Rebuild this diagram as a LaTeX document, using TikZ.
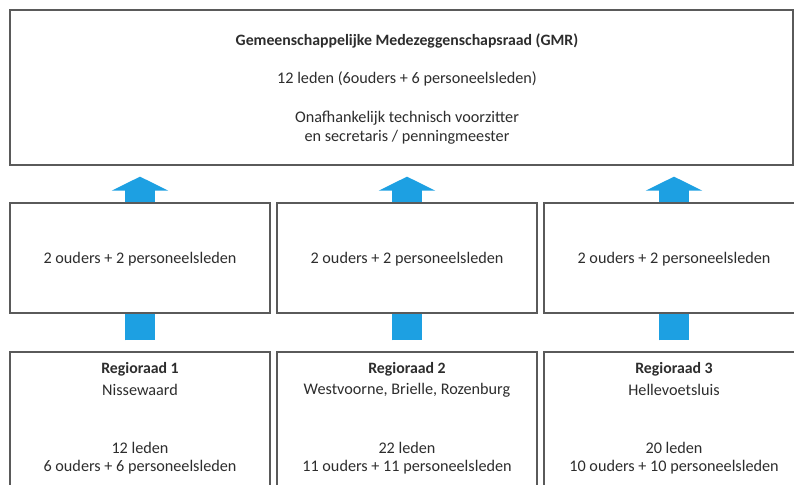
\documentclass[tikz,border=0pt]{standalone}
\usepackage{fontspec}
\setmainfont{Carlito}
\usetikzlibrary{arrows.meta}
\definecolor{boxline}{RGB}{90,90,90}
\definecolor{txt}{RGB}{45,45,45}
\definecolor{arrowc}{RGB}{29,160,226}
\tikzset{
  box/.style={draw=boxline, line width=1.3pt, fill=white, inner sep=0pt},
  lbl/.style={text=txt, font=\fontsize{16.2}{19}\selectfont, inner sep=0pt, align=center},
  boldlbl/.style={lbl, font=\fontsize{15.8}{19}\selectfont\bfseries},
  uparr/.style={draw=arrowc, line width=30pt, -{Triangle[length=14pt,width=56pt]}, shorten >=11pt},
  stem/.style={draw=arrowc, line width=30pt},
}
\begin{document}
\begin{tikzpicture}[x=1pt,y=1pt]
\useasboundingbox (0,0) rectangle (794,-484);
% top box
\node[box, minimum width=783pt, minimum height=155pt] (gmr) at (401.5,-87.5) {};
\node[boldlbl] (t1) at (407,-41) {Gemeenschappelijke Medezeggenschapsraad (GMR)};
\node[lbl] (t2) at (407,-79) {12 leden (6ouders + 6 personeelsleden)};
\node[lbl] (t3) at (407,-128) {Onafhankelijk technisch voorzitter\\en secretaris / penningmeester};
% middle boxes
\node[box, minimum width=260pt, minimum height=110pt] (m1) at (140,-258) {};
\node[box, minimum width=260pt, minimum height=110pt] (m2) at (407,-258) {};
\node[box, minimum width=260pt, minimum height=110pt] (m3) at (674,-258) {};
\node[lbl] (mt1) at ([yshift=-1pt]m1.center) {2 ouders + 2 personeelsleden};
\node[lbl] (mt2) at ([yshift=-1pt]m2.center) {2 ouders + 2 personeelsleden};
\node[lbl] (mt3) at ([yshift=-1pt]m3.center) {2 ouders + 2 personeelsleden};
% bottom boxes
\node[box, minimum width=260pt, minimum height=160pt] (b1) at (140,-432) {};
\node[box, minimum width=260pt, minimum height=160pt] (b2) at (407,-432) {};
\node[box, minimum width=260pt, minimum height=160pt] (b3) at (674,-432) {};
\foreach \i/\n/\p/\l/\s in {1/Regioraad 1/Nissewaard/12 leden/6 ouders + 6 personeelsleden,
  2/Regioraad 2/{Westvoorne, Brielle, Rozenburg}/22 leden/11 ouders + 11 personeelsleden,
  3/Regioraad 3/Hellevoetsluis/20 leden/10 ouders + 10 personeelsleden}{
  \node[boldlbl] (bn\i) at ([yshift=-18pt]b\i.north) {\n};
  \node[lbl] (bp\i) at ([yshift=-39pt]b\i.north) {\p};
  \node[lbl] (bl\i) at ([yshift=-97pt]b\i.north) {\l};
  \node[lbl] (bs\i) at ([yshift=-116pt]b\i.north) {\s};
}
% arrows
\foreach \i in {1,2,3}{
  \draw[uparr] (m\i.north) -- (m\i.north |- gmr.south);
  \draw[stem] ([yshift=11pt]b\i.north) -- (m\i.south);
}
\end{tikzpicture}
\end{document}
